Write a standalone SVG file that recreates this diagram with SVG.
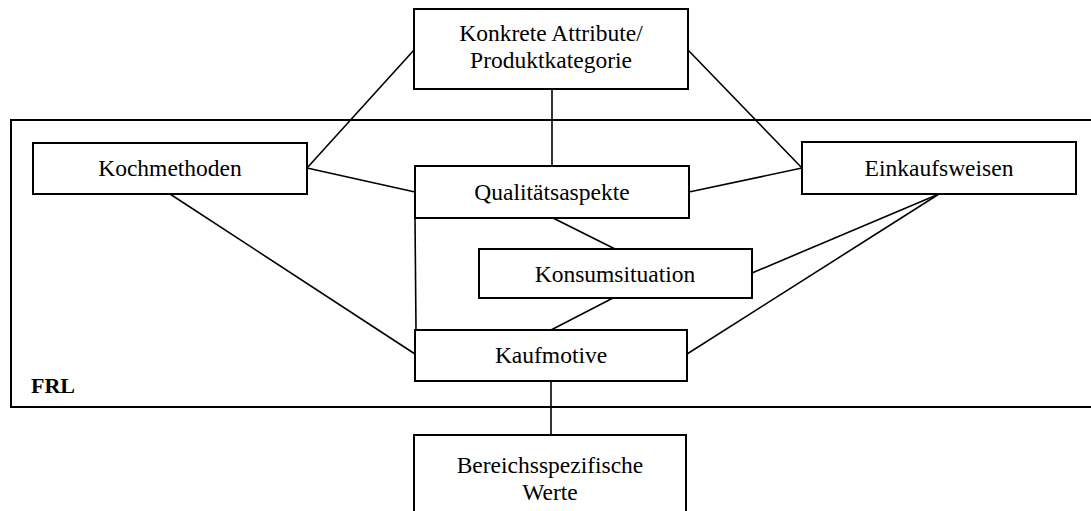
<svg xmlns="http://www.w3.org/2000/svg" width="1091" height="511" viewBox="0 0 1091 511">
<style>
.box{fill:#fff;stroke:#000;stroke-width:2}
.frame{fill:none;stroke:#000;stroke-width:2}
.ln{stroke:#000;stroke-width:1.6;fill:none}
.t{font-family:"Liberation Serif","Times New Roman",serif;font-size:23.5px;fill:#000;text-anchor:middle}
.b{font-family:"Liberation Serif","Times New Roman",serif;font-size:22px;font-weight:bold;fill:#000}
</style>
<rect width="1091" height="511" fill="#fff"/>
<g id="frl">
<rect class="frame" x="11" y="120" width="1090" height="287"/>
<text class="b" x="31" y="393">FRL</text>
</g>
<g id="connectors">
<line class="ln" x1="414" y1="50" x2="307" y2="168"/>
<line class="ln" x1="688" y1="50" x2="802" y2="168"/>
<line class="ln" x1="552" y1="89" x2="552" y2="166"/>
<line class="ln" x1="307" y1="168" x2="415" y2="192"/>
<line class="ln" x1="689" y1="192" x2="802" y2="168"/>
<line class="ln" x1="170" y1="194" x2="415" y2="354"/>
<line class="ln" x1="415" y1="218" x2="416" y2="330"/>
<line class="ln" x1="553" y1="218" x2="615" y2="249"/>
<line class="ln" x1="613" y1="298" x2="551" y2="330"/>
<line class="ln" x1="752" y1="273" x2="939" y2="194"/>
<line class="ln" x1="939" y1="194" x2="687" y2="354"/>
<line class="ln" x1="551" y1="381" x2="551" y2="435"/>
</g>
<g id="konkrete">
<rect class="box" x="414" y="9" width="274" height="80"/>
<text class="t" x="551" y="41">Konkrete Attribute/</text>
<text class="t" x="551" y="68">Produktkategorie</text>
</g>
<g id="kochmethoden">
<rect class="box" x="33" y="143" width="274" height="51"/>
<text class="t" x="170" y="176">Kochmethoden</text>
</g>
<g id="qualitaet">
<rect class="box" x="415" y="166" width="274" height="52"/>
<text class="t" x="552" y="200">Qualitätsaspekte</text>
</g>
<g id="einkaufsweisen">
<rect class="box" x="802" y="142" width="274" height="52"/>
<text class="t" x="939" y="176">Einkaufsweisen</text>
</g>
<g id="konsum">
<rect class="box" x="479" y="249" width="273" height="49"/>
<text class="t" x="615" y="282">Konsumsituation</text>
</g>
<g id="kaufmotive">
<rect class="box" x="415" y="330" width="272" height="51"/>
<text class="t" x="551" y="363">Kaufmotive</text>
</g>
<g id="werte">
<rect class="box" x="414" y="435" width="272" height="90"/>
<text class="t" x="550" y="473">Bereichsspezifische</text>
<text class="t" x="550" y="500">Werte</text>
</g>
</svg>
